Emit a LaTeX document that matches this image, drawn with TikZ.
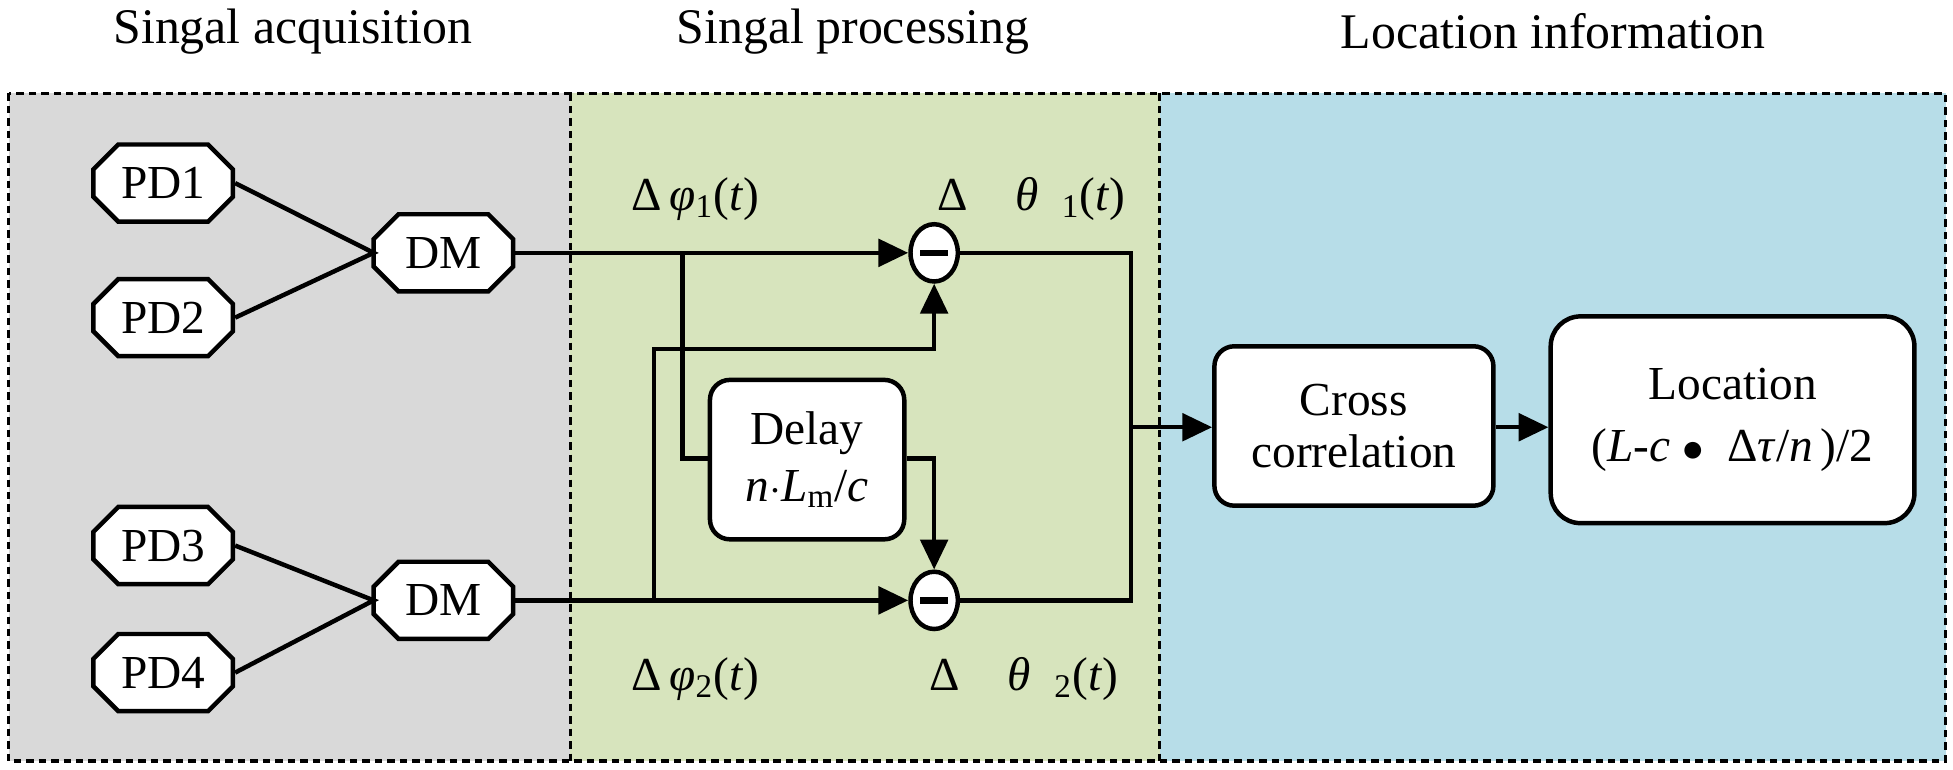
\documentclass[tikz,border=0pt]{standalone}
\usepackage{fontspec}
\setmainfont{Liberation Serif}
\usetikzlibrary{shapes.misc,shapes.geometric,arrows.meta}
\definecolor{pgray}{HTML}{D9D9D9}
\definecolor{pgreen}{HTML}{D7E4BD}
\definecolor{pblue}{HTML}{B7DDE8}
\begin{document}
\begin{tikzpicture}[x=0.5pt,y=-0.5pt,
  txt/.style={font=\fontsize{19}{21}\selectfont},
  oct/.style={draw,line width=1.8pt,fill=white,chamfered rectangle,chamfered rectangle xsep=2pt,chamfered rectangle ysep=2pt,chamfered rectangle sep=5pt,minimum width=56pt,minimum height=31pt,inner sep=0pt,txt},
  rbox/.style={draw,line width=1.8pt,fill=white,rounded corners=8pt,align=center,txt,inner sep=0pt},
  minus/.style={draw,line width=1.8pt,fill=white,ellipse,minimum width=19pt,minimum height=23pt,inner sep=0pt},
  wire/.style={line width=1.8pt},
  arr/.style={line width=1.8pt,-{Triangle[length=12pt,width=11pt]}},
  panel/.style={line width=1.3pt,dash pattern=on 3pt off 2pt}]
\useasboundingbox (0,0) rectangle (1568,618);
\fill[pgray] (7,75) rectangle (458,611);
\fill[pgreen] (458,75) rectangle (931,611);
\fill[pblue] (931,75) rectangle (1562,611);
\draw[panel] (7,75) rectangle (1562,611);
\draw[panel] (458,75) -- (458,611);
\draw[panel] (931,75) -- (931,611);
\node[txt,font=\fontsize{20}{22}\selectfont] (t1) at (235,25) {Singal acquisition};
\node[txt,font=\fontsize{20}{22}\selectfont] (t2) at (685,25) {Singal processing};
\node[txt,font=\fontsize{20}{22}\selectfont] (t3) at (1247,25) {Location information};
\node[oct] (pd1) at (131,147) {PD1};
\node[oct] (pd2) at (131,255) {PD2};
\node[oct] (pd3) at (131,438) {PD3};
\node[oct] (pd4) at (131,540) {PD4};
\node[oct] (dm1) at (356,203) {DM};
\node[oct] (dm2) at (356,482) {DM};
\coordinate (j1) at (300,203);
\coordinate (j2) at (300,482);
\draw[wire] (pd1.east) -- (j1) -- (pd2.east);
\draw[wire] (pd3.east) -- (j2) -- (pd4.east);
\node[minus] (m1) at (750,203) {};
\node[minus] (m2) at (750,482) {};
\draw[line width=2.6pt] ([xshift=-5.5pt]m1.center) -- ([xshift=5.5pt]m1.center);
\draw[line width=2.6pt] ([xshift=-5.5pt]m2.center) -- ([xshift=5.5pt]m2.center);
\node[rbox,minimum width=78pt,minimum height=64pt] (delay) at (648,369) {Delay\\[2pt]\textit{n}$\cdot$\textit{L}\textsubscript{m}/\textit{c}};
\node[rbox,minimum width=112pt,minimum height=64pt] (cc) at (1087,342) {Cross\\correlation};
\node[rbox,minimum width=146pt,minimum height=83pt,rounded corners=12pt] (loc) at (1391,337) {Location\\[4pt](\textit{L}-\textit{c} $\bullet$\ \ Δ\textit{τ}/\textit{n}\,)/2};
\draw[arr] (dm1.east) -- (m1.west);
\draw[arr] (dm2.east) -- (m2.west);
\coordinate (b1) at (548,203);
\coordinate (b2) at (525,482);
\draw[wire] (b1) -- (548,368) -- (delay.west |- 0,368);
\draw[arr] (delay.east |- 0,368) -- (750,368) -- (m2.north);
\draw[arr] (b2) -- (525,280) -- (750,280) -- (m1.south);
\coordinate (r) at (908,343);
\draw[wire] (m1.east) -- (908,203) -- (908,482) -- (m2.east);
\draw[arr] (r) -- (cc.west |- r);
\draw[arr] (cc.east |- r) -- (loc.west |- r);
\node[txt] (l1) at (558,160) {Δ\,\textit{φ}\textsubscript{1}(\textit{t})};
\node[txt] (l2) at (828,160) {Δ\quad\textit{θ}\ \ \textsubscript{1}(\textit{t})};
\node[txt] (l3) at (558,545) {Δ\,\textit{φ}\textsubscript{2}(\textit{t})};
\node[txt] (l4) at (822,545) {Δ\quad\textit{θ}\ \ \textsubscript{2}(\textit{t})};
\end{tikzpicture}
\end{document}
